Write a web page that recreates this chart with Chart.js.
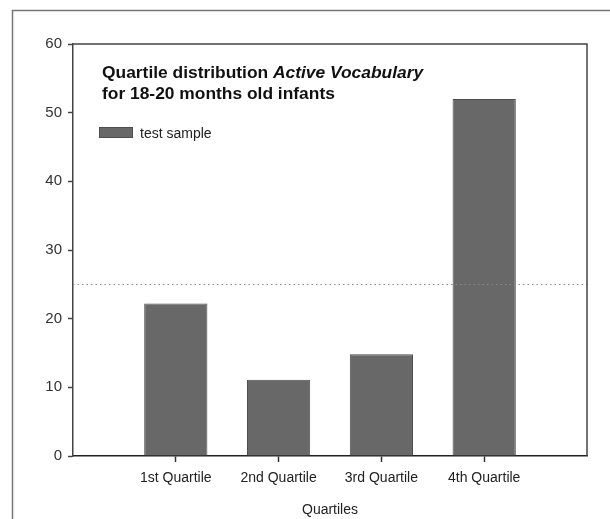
<!DOCTYPE html>
<html><head><meta charset="utf-8">
<script src="https://cdn.jsdelivr.net/npm/chart.js@4"></script>
<style>html,body{margin:0;padding:0;background:#fff}#wrap{width:610px;height:519px;position:relative}</style>
</head><body><div id="wrap"><canvas id="c" width="610" height="519"></canvas></div>
<script>
const categories = ['', '1st Quartile', '2nd Quartile', '3rd Quartile', '4th Quartile', ''];
const testSample = [null, 22.2, 11.1, 14.8, 52.0, null];
const yTicks = [0, 10, 20, 30, 40, 50, 60];
const referenceLine = 25;
const seriesName = 'test sample';
const titleLine1 = ['Quartile distribution ', 'Active Vocabulary'];
const titleLine2 = 'for 18-20 months old infants';
const xAxisTitle = 'Quartiles';

const FONT = "'Liberation Sans', Arial, sans-serif";

const decor = {
  id: 'decor',
  beforeDraw(chart) {
    const ctx = chart.ctx;
    ctx.save();
    ctx.fillStyle = '#fff';
    ctx.fillRect(0, 0, chart.width, chart.height);
    ctx.strokeStyle = '#777';
    ctx.lineWidth = 1.5;
    ctx.strokeRect(12.5, 10.5, 800, 800);
    ctx.restore();
  },
  afterDatasetsDraw(chart) {
    const ctx = chart.ctx;
    const a = chart.chartArea;
    const y = chart.scales.y;
    ctx.save();
    // reference dotted line
    const yr = Math.round(y.getPixelForValue(referenceLine)) + 0.5;
    ctx.strokeStyle = '#8a8a8a';
    ctx.lineWidth = 1;
    ctx.setLineDash([1.5, 3]);
    ctx.beginPath();
    ctx.moveTo(a.left, yr);
    ctx.lineTo(a.right, yr);
    ctx.stroke();
    ctx.setLineDash([]);
    // frame top & right
    ctx.strokeStyle = '#444';
    ctx.lineWidth = 1.5;
    ctx.beginPath();
    ctx.moveTo(a.left, a.top);
    ctx.lineTo(a.right, a.top);
    ctx.lineTo(a.right, a.bottom);
    ctx.stroke();
    // title
    ctx.fillStyle = '#111';
    ctx.textBaseline = 'alphabetic';
    ctx.textAlign = 'left';
    const tx = a.left + 29;
    ctx.font = 'bold 17.4px ' + FONT;
    ctx.fillText(titleLine1[0], tx, a.top + 33.5);
    const w0 = ctx.measureText(titleLine1[0]).width;
    ctx.font = 'italic bold 17.4px ' + FONT;
    ctx.fillText(titleLine1[1], tx + w0, a.top + 33.5);
    ctx.font = 'bold 17.4px ' + FONT;
    ctx.fillText(titleLine2, tx, a.top + 55);
    // legend
    const ds = chart.data.datasets[0];
    ctx.fillStyle = ds.backgroundColor;
    ctx.strokeStyle = ds.borderColor;
    ctx.lineWidth = 1;
    ctx.fillRect(a.left + 26, a.top + 83, 34, 11);
    ctx.strokeRect(a.left + 26.5, a.top + 83.5, 33, 10);
    ctx.fillStyle = '#222';
    ctx.font = '14px ' + FONT;
    ctx.fillText(ds.label, a.left + 67, a.top + 93.5);
    ctx.restore();
  }
};

new Chart(document.getElementById('c'), {
  type: 'bar',
  data: {
    labels: categories,
    datasets: [{
      label: seriesName,
      data: testSample,
      backgroundColor: '#686868',
      borderColor: '#4e4e4e',
      borderWidth: 1,
      categoryPercentage: 1,
      barPercentage: 0.615
    }]
  },
  options: {
    responsive: false,
    animation: false,
    devicePixelRatio: 1,
    layout: { padding: { top: 44, right: 23, bottom: 0, left: 0 } },
    plugins: { legend: { display: false }, tooltip: { enabled: false }, title: { display: false } },
    scales: {
      x: {
        type: 'category',
        offset: false,
        grid: {
          offset: false,
          drawOnChartArea: false,
          tickLength: 6,
          tickWidth: 1.5,
          tickColor: (c) => (categories[c.index] ? '#333' : 'rgba(0,0,0,0)')
        },
        border: { color: '#222', width: 1.5 },
        ticks: { font: { family: FONT, size: 14 }, color: '#222', padding: 8, maxRotation: 0, autoSkip: false },
        title: { display: true, text: xAxisTitle, font: { family: FONT, size: 14 }, color: '#222', padding: { top: 0, bottom: 0 } },
        afterFit: (s) => { s.height = 63; }
      },
      y: {
        min: yTicks[0],
        max: yTicks[yTicks.length - 1],
        afterBuildTicks: (s) => { s.ticks = yTicks.map(v => ({ value: v })); },
        grid: { drawOnChartArea: false, tickLength: 5, tickWidth: 1.5, tickColor: '#444' },
        border: { color: '#444', width: 1.5 },
        ticks: { font: { family: FONT, size: 15 }, color: '#333', padding: 6 },
        afterFit: (s) => { s.width = 73; }
      }
    }
  },
  plugins: [decor]
});
</script>
</body></html>
